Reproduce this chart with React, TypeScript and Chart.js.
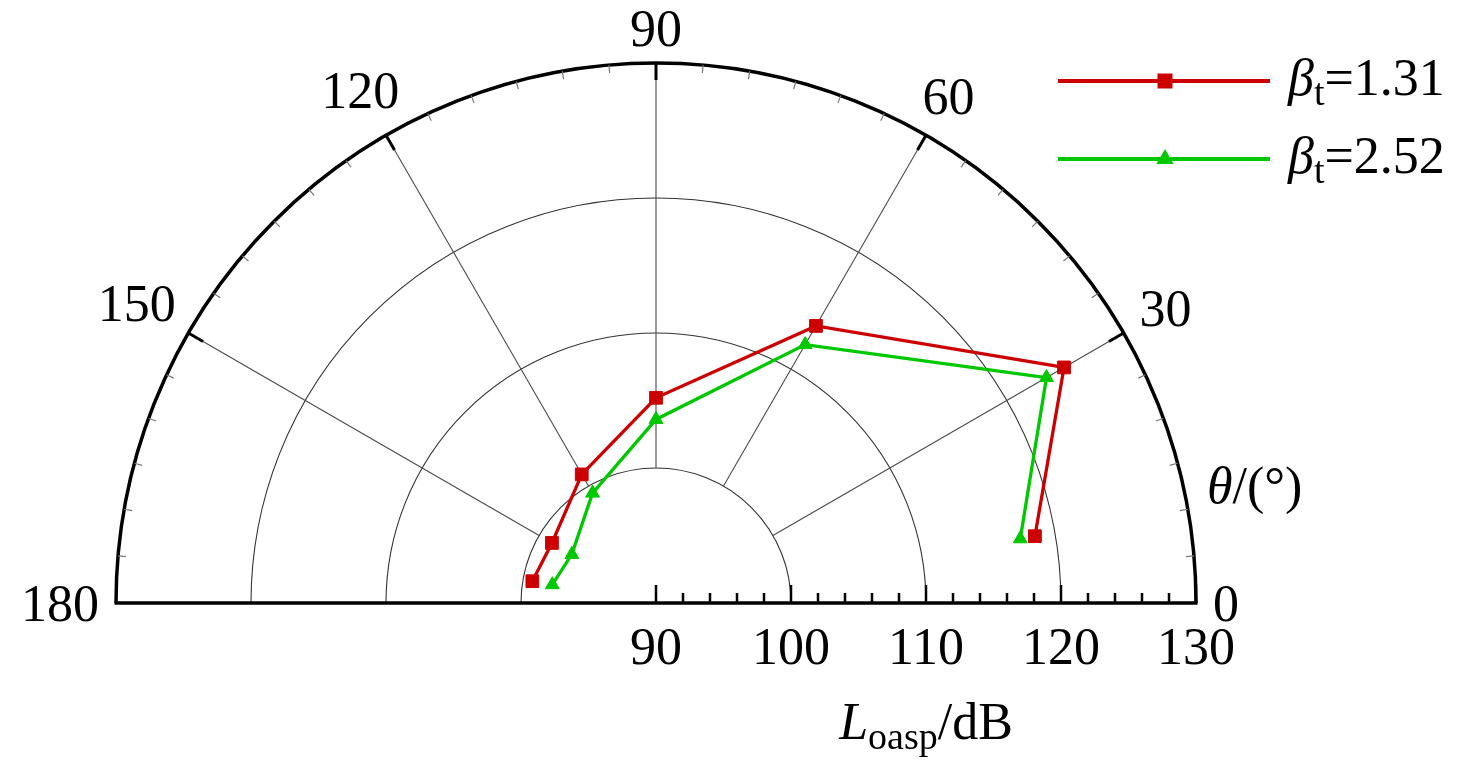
import React, { useEffect, useRef } from 'react';
import { Chart, registerables } from 'chart.js';

Chart.register(...registerables);

// ---- data ----
const thetaDeg = [10, 30, 60, 90, 120, 150, 170];
const lBeta131 = [118.5, 124.9, 113.7, 105.2, 101.0, 98.9, 99.3];
const lBeta252 = [117.4, 123.4, 112.1, 103.6, 99.4, 97.2, 97.8];
const seriesNames = ['1.31', '2.52'];
const seriesColors = ['#cc0000', '#00c800'];
const angleTickLabels = [0, 30, 60, 90, 120, 150, 180];
const radialTickLabels = [90, 100, 110, 120, 130];
const R_MIN = 90;
const R_MAX = 130;

// radar spokes: one every 5 degrees, spoke 0 pointing east, counter-clockwise angles
const SPOKE_STEP = 5;
const SPOKES = 360 / SPOKE_STEP;
const spokeTheta = Array.from({ length: SPOKES }, (_, i) => (360 - i * SPOKE_STEP) % 360);
const spokeIndex = (theta: number) => (SPOKES - theta / SPOKE_STEP) % SPOKES;
const toSpokes = (vals: number[]) =>
  spokeTheta.map((t) => {
    const k = thetaDeg.indexOf(t);
    return k >= 0 ? vals[k] : null;
  });

const FONT = "'Liberation Serif', 'Times New Roman', Times, serif";
const SIZE = 52;
const SUB_SIZE = 38;
const SUB_DROP = 10;

type Part = { t: string; italic?: boolean; sub?: boolean };

function drawRich(ctx: CanvasRenderingContext2D, parts: Part[], x: number, y: number, align: 'left' | 'center') {
  const font = (p: Part) => `${p.italic ? 'italic ' : ''}${p.sub ? SUB_SIZE : SIZE}px ${FONT}`;
  const widths = parts.map((p) => {
    ctx.font = font(p);
    return ctx.measureText(p.t).width;
  });
  const total = widths.reduce((a, b) => a + b, 0);
  let cx = align === 'center' ? x - total / 2 : x;
  ctx.textAlign = 'left';
  ctx.textBaseline = 'alphabetic';
  parts.forEach((p, i) => {
    ctx.font = font(p);
    ctx.fillText(p.t, cx, y + (p.sub ? SUB_DROP : 0));
    cx += widths[i];
  });
}

function drawMarker(ctx: CanvasRenderingContext2D, style: string, x: number, y: number, color: string) {
  ctx.fillStyle = color;
  ctx.beginPath();
  if (style === 'rect') {
    const h = 7.5;
    ctx.rect(x - h, y - h, 2 * h, 2 * h);
  } else {
    const r = 10;
    ctx.moveTo(x, y - r);
    ctx.lineTo(x + r * 0.866, y + r / 2);
    ctx.lineTo(x - r * 0.866, y + r / 2);
    ctx.closePath();
  }
  ctx.fill();
}

// radar closes its outline; this chart's curves are open
const openLine = {
  id: 'openLine',
  afterDatasetsUpdate(chart: any) {
    for (const meta of chart.getSortedVisibleDatasetMetas()) {
      const line = meta.dataset;
      if (line) {
        line._loop = false;
        line._fullLoop = false;
        delete line._segments;
        delete line._path;
      }
    }
  },
};

// only the upper half-plane of the polar grid is shown
const halfPlane = {
  id: 'halfPlane',
  beforeDatasetsDraw(chart: any) {
    const s = chart.scales.r;
    const ctx = chart.ctx;
    ctx.save();
    ctx.fillStyle = '#ffffff';
    ctx.fillRect(0, s.yCenter, chart.width, chart.height - s.yCenter);
    ctx.restore();
  },
};

const decorations = {
  id: 'decorations',
  afterDraw(chart: any) {
    const s = chart.scales.r;
    const ctx: CanvasRenderingContext2D = chart.ctx;
    const xC = s.xCenter;
    const yC = s.yCenter;
    const R = s.drawingArea;
    const dist = (v: number) => s.getDistanceFromCenterForValue(v);
    ctx.save();

    // ticks on the outer arc
    for (let t = SPOKE_STEP; t < 180; t += SPOKE_STEP) {
      const i = spokeIndex(t);
      const major = t % 30 === 0;
      const p0 = s.getPointPosition(i, R);
      const p1 = s.getPointPosition(i, R - (major ? 17 : 8));
      ctx.beginPath();
      ctx.moveTo(p0.x, p0.y);
      ctx.lineTo(p1.x, p1.y);
      ctx.lineWidth = major ? 3 : 1.2;
      ctx.strokeStyle = major ? '#000000' : '#777777';
      ctx.stroke();
    }

    // baseline (0 - 180)
    ctx.strokeStyle = '#000000';
    ctx.beginPath();
    ctx.moveTo(xC - R - 1.5, yC);
    ctx.lineTo(xC + R + 1.5, yC);
    ctx.lineWidth = 3.5;
    ctx.stroke();

    // radial-axis ticks along the baseline
    for (let v = R_MIN; v <= R_MAX; v += 2) {
      const x = xC + dist(v);
      const major = v % 10 === 0;
      ctx.beginPath();
      ctx.moveTo(x, yC);
      ctx.lineTo(x, yC - (major ? 18 : 10));
      ctx.lineWidth = 2.5;
      ctx.stroke();
    }

    ctx.fillStyle = '#000000';
    // radial tick labels
    ctx.font = `${SIZE}px ${FONT}`;
    ctx.textAlign = 'center';
    ctx.textBaseline = 'alphabetic';
    for (const v of radialTickLabels) {
      ctx.fillText(String(v), xC + dist(v), yC + 61);
    }

    // angle labels
    const digitH = 0.676 * SIZE;
    for (const a of angleTickLabels) {
      const txt = String(a);
      ctx.font = `${SIZE}px ${FONT}`;
      const w = ctx.measureText(txt).width;
      const rad = (a * Math.PI) / 180;
      const half = Math.abs(Math.cos(rad)) * (w / 2) + Math.abs(Math.sin(rad)) * (digitH / 2);
      const p = s.getPointPosition(spokeIndex(a), R + 17 + half);
      ctx.textAlign = 'center';
      ctx.fillText(txt, p.x, p.y + digitH / 2);
    }

    // angle axis title
    drawRich(ctx, [{ t: 'θ', italic: true }, { t: '/(°)' }], xC + R + 11, yC - 100, 'left');

    // radial axis title
    drawRich(
      ctx,
      [{ t: 'L', italic: true }, { t: 'oasp', sub: true }, { t: '/dB' }],
      xC + R / 2,
      yC + 136,
      'center'
    );

    // legend
    const styles = ['rect', 'triangle'];
    seriesNames.forEach((name, k) => {
      const y = 81 + k * 78;
      ctx.strokeStyle = seriesColors[k];
      ctx.lineWidth = 4;
      ctx.beginPath();
      ctx.moveTo(1058, y);
      ctx.lineTo(1270, y);
      ctx.stroke();
      drawMarker(ctx, styles[k], 1165, y, seriesColors[k]);
      ctx.fillStyle = '#000000';
      drawRich(ctx, [{ t: 'β', italic: true }, { t: 't', sub: true }, { t: '=' + name }], 1288, y + 14, 'left');
    });

    ctx.restore();
  },
};

export default function App() {
  const ref = useRef<HTMLCanvasElement>(null);

  useEffect(() => {
    const canvas = ref.current;
    if (!canvas) return;
    const chart = new Chart(canvas, {
      type: 'radar',
      data: {
        labels: spokeTheta.map(String),
        datasets: [
          {
            label: 'βt=' + seriesNames[0],
            data: toSpokes(lBeta131),
            borderColor: seriesColors[0],
            backgroundColor: seriesColors[0],
            pointBackgroundColor: seriesColors[0],
            pointBorderColor: seriesColors[0],
            pointBorderWidth: 1,
            borderWidth: 3.3,
            pointStyle: 'rect',
            pointRadius: 9,
            pointHoverRadius: 9,
            fill: false,
            spanGaps: true,
            tension: 0,
          },
          {
            label: 'βt=' + seriesNames[1],
            data: toSpokes(lBeta252),
            borderColor: seriesColors[1],
            backgroundColor: seriesColors[1],
            pointBackgroundColor: seriesColors[1],
            pointBorderColor: seriesColors[1],
            pointBorderWidth: 1,
            borderWidth: 3.3,
            pointStyle: 'triangle',
            pointRadius: 8,
            pointHoverRadius: 8,
            fill: false,
            spanGaps: true,
            tension: 0,
          },
        ],
      },
      options: {
        responsive: false,
        animation: false,
        events: [],
        layout: { padding: { left: 116, right: 280, top: 63, bottom: 57 } },
        plugins: { legend: { display: false }, tooltip: { enabled: false } },
        scales: {
          r: {
            type: 'radialLinear',
            min: R_MIN,
            max: R_MAX,
            startAngle: 90,
            ticks: { display: false, stepSize: 10 },
            pointLabels: { display: false },
            grid: {
              circular: true,
              color: (c: any) => (c.tick && c.tick.value === R_MAX ? '#000000' : '#333333'),
              lineWidth: (c: any) => (c.tick && c.tick.value === R_MAX ? 3.5 : 1.1),
            },
            angleLines: {
              display: true,
              color: '#4a4a4a',
              lineWidth: (c: any) => {
                const a = spokeTheta[c.index];
                return a > 0 && a < 180 && a % 30 === 0 ? 1.1 : 0;
              },
              borderDash: (c: any) => {
                const sc = c.chart.scales.r;
                return [2000, sc.getDistanceFromCenterForValue(100)];
              },
              borderDashOffset: 2000,
            },
          },
        },
      } as any,
      plugins: [openLine, halfPlane, decorations],
    });
    return () => chart.destroy();
  }, []);

  return (
    <div
      style={{
        position: 'fixed',
        left: 0,
        top: 0,
        width: 1476,
        height: 779,
        overflow: 'hidden',
        background: '#ffffff',
      }}
    >
      <canvas ref={ref} width={1476} height={1200} style={{ display: 'block', width: 1476, height: 1200 }} />
    </div>
  );
}
